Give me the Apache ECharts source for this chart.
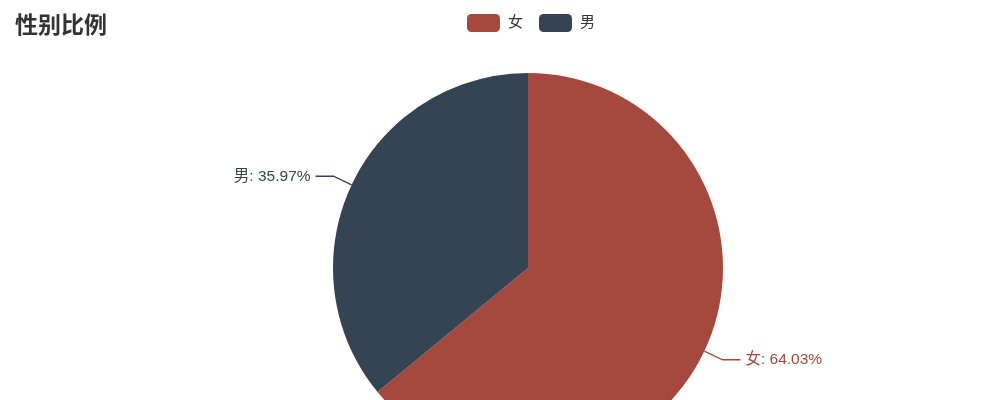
<!DOCTYPE html>
<html><head><meta charset="utf-8">
<script src="https://cdn.jsdelivr.net/npm/echarts@6/dist/echarts.min.js"></script>
<style>html,body{margin:0;padding:0;background:#fff}#c{width:991px;height:400px}</style>
</head><body><div id="c"></div>
<script>
const categories = ['女', '男'];
const values = [64.03, 35.97];
const colors = ['#a5493e', '#344452'];
const FONT = '"Liberation Sans", "Noto Sans CJK SC", sans-serif';
const chart = echarts.init(document.getElementById('c'));
chart.setOption({
  animation: false,
  color: colors,
  title: {
    text: '性别比例', left: 10, top: 10,
    textStyle: {fontSize: 23, fontWeight: 'bold', color: '#333', fontFamily: FONT}
  },
  legend: {
    data: categories, left: 462, top: 9,
    itemWidth: 33, itemHeight: 18, itemGap: 16,
    textStyle: {fontSize: 15, color: '#333', fontFamily: FONT, padding: [0, 0, 0, 3]}
  },
  series: [{
    type: 'pie',
    center: [528, 268],
    radius: 195,
    data: categories.map((c, i) => ({name: c, value: values[i]})),
    label: {formatter: '{b}: {d}%', fontSize: 15.5, color: 'inherit', fontFamily: FONT},
    labelLine: {length: 20, length2: 18, smooth: false, lineStyle: {width: 1.3}},
    emphasis: {disabled: true}
  }]
});
</script></body></html>
